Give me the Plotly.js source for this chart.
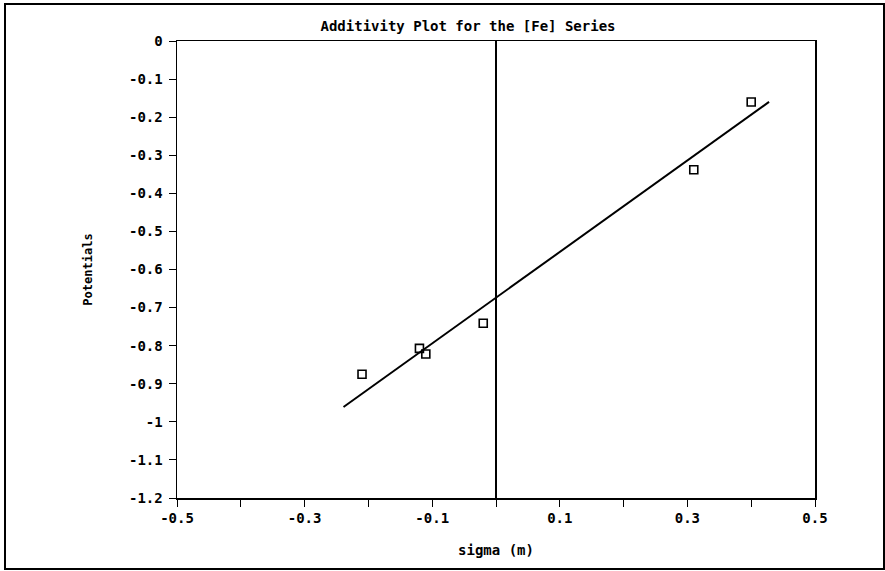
<!DOCTYPE html>
<html>
<head>
<meta charset="utf-8">
<script src="https://cdn.plot.ly/plotly-3.0.1.min.js"></script>
<style>html,body{margin:0;padding:0;background:#fff;}#chart{width:885px;height:571px;}</style>
</head>
<body>
<div id="chart"></div>
<script>
// Data
const sigmaValues = [-0.21, -0.12, -0.11, -0.02, 0.31, 0.40];
const potentialValues = [-0.875, -0.807, -0.822, -0.741, -0.338, -0.160];
const fitX = [-0.239, 0.428];
const fitY = [-0.961, -0.160];
const xTickVals = [-0.5, -0.4, -0.3, -0.2, -0.1, 0, 0.1, 0.2, 0.3, 0.4, 0.5];
const xTickText = ['-0.5', '', '-0.3', '', '-0.1', '', '0.1', '', '0.3', '', '0.5'];
const yTickVals = [0, -0.1, -0.2, -0.3, -0.4, -0.5, -0.6, -0.7, -0.8, -0.9, -1, -1.1, -1.2];
const yTickText = ['0', '-0.1', '-0.2', '-0.3', '-0.4', '-0.5', '-0.6', '-0.7', '-0.8', '-0.9', '-1', '-1.1', '-1.2'];

const FONT = 'DejaVu Sans Mono, monospace';

const traces = [
  {
    x: fitX, y: fitY, type: 'scatter', mode: 'lines',
    line: {color: '#000', width: 2}, hoverinfo: 'skip', showlegend: false
  },
  {
    x: sigmaValues, y: potentialValues, type: 'scatter', mode: 'markers',
    marker: {symbol: 'square-open', size: 8, color: '#000', line: {width: 1.6, color: '#000'}},
    showlegend: false
  }
];

const W = 885, H = 571;
const L = 177, R = 70, T = 41, B = 73;
const pw = W - L - R, ph = H - T - B;

const layout = {
  width: W, height: H,
  margin: {l: L, r: R, t: T, b: B, pad: 0},
  paper_bgcolor: '#fff', plot_bgcolor: '#fff',
  font: {family: FONT, size: 12, color: '#000', weight: 'bold'},
  title: {
    text: 'Additivity Plot for the [Fe] Series',
    font: {family: FONT, size: 14, color: '#000', weight: 'bold'},
    xref: 'container', yref: 'container', x: 468 / W, y: 1 - 26 / H,
    xanchor: 'center', yanchor: 'middle'
  },
  xaxis: {
    range: [-0.5, 0.5], tickvals: xTickVals, ticktext: xTickText,
    ticks: 'outside', ticklen: 7, tickwidth: 1, tickcolor: '#000',
    showline: true, linecolor: '#000', linewidth: 1.5, mirror: true,
    showgrid: false, zeroline: true, zerolinecolor: '#000', zerolinewidth: 1.2,
    tickfont: {family: FONT, size: 14, color: '#000', weight: 'bold'},
    title: {text: 'sigma (m)', font: {family: FONT, size: 14, color: '#000', weight: 'bold'}, standoff: 20},
    automargin: false
  },
  yaxis: {
    range: [-1.2, 0], tickvals: yTickVals, ticktext: yTickText,
    ticks: 'outside', ticklen: 7, tickwidth: 1, tickcolor: '#000',
    ticklabelstandoff: 3,
    showline: true, linecolor: '#000', linewidth: 1.5, mirror: true,
    showgrid: false, zeroline: false,
    tickfont: {family: FONT, size: 14, color: '#000', weight: 'bold'},
    title: {text: 'Potentials', font: {family: FONT, size: 12, color: '#000', weight: 'bold'}, standoff: 34},
    automargin: false
  },
  shapes: [{
    type: 'rect', xref: 'paper', yref: 'paper',
    x0: (5 - L) / pw, x1: (884 - L) / pw,
    y0: -(569 - (H - B)) / ph, y1: 1 + (T - 4) / ph,
    line: {color: '#000', width: 2}, fillcolor: 'rgba(0,0,0,0)', layer: 'below'
  }]
};

Plotly.newPlot('chart', traces, layout, {displayModeBar: false, staticPlot: true});
</script>
</body>
</html>
